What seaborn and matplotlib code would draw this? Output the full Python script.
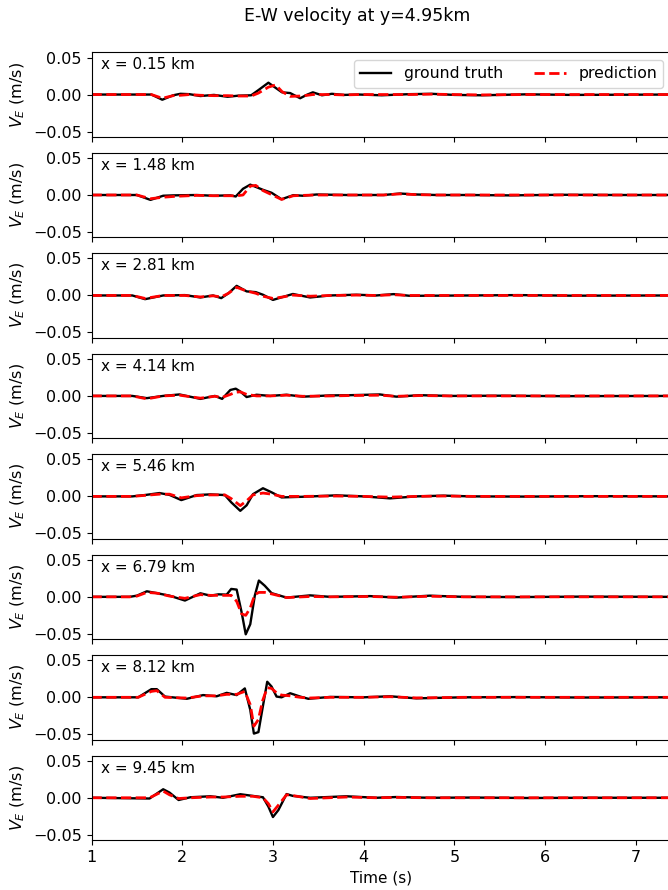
import numpy as np
import pandas as pd
import matplotlib
matplotlib.use("Agg")
import matplotlib.pyplot as plt
import seaborn as sns

title = "E-W velocity at y=4.95km"
stations = ["0.15", "1.48", "2.81", "4.14", "5.46", "6.79", "8.12", "9.45"]

# panel 1 (x = 0.15 km)
t1 = [1.0, 1.66, 1.78, 1.90, 1.98, 2.08, 2.20, 2.35, 2.50, 2.62, 2.76, 2.84, 2.95, 3.03, 3.10, 3.19, 3.30, 3.38,
      3.44, 3.54, 3.65, 3.78, 3.95, 4.2, 4.5, 4.75, 5.0, 5.3, 5.8, 6.3, 7.4]
gt1 = [0, 0, -0.007, -0.001, 0.001, 0.0005, -0.002, -0.0005, -0.003, -0.0015, -0.001, 0.006, 0.016, 0.009, 0.003,
       0.002, -0.005, 0.0, 0.003, -0.001, 0.001, -0.0005, 0.0, -0.001, 0.0005, 0.001, -0.0005, -0.001, 0.0003, -0.0005, 0]
pr1 = [0, 0, -0.005, -0.0015, -0.001, 0.0, -0.001, -0.0015, -0.0015, -0.002, -0.002, 0.002, 0.010, 0.013, 0.004,
       -0.0025, -0.002, -0.001, 0.0, 0.0, 0.0, -0.0005, 0.0, 0.0, 0.0, 0.0005, 0, -0.0005, 0, 0, 0]

# panel 2 (x = 1.48 km)
t2 = [1.0, 1.50, 1.65, 1.79, 1.90, 2.16, 2.34, 2.53, 2.59, 2.67, 2.75, 2.81, 2.89, 2.985, 3.095, 3.225, 3.33, 3.48,
      3.81, 4.22, 4.40, 4.58, 4.80, 5.17, 5.6, 6.2, 6.8, 7.4]
gt2 = [0, 0, -0.0066, -0.001, -0.0005, 0, -0.001, -0.0005, -0.002, 0.0084, 0.014, 0.011, 0.007, 0.003, -0.0057,
       -0.0002, -0.001, 0.0007, 0, 0, 0.002, 0.0007, 0, 0, -0.0005, 0.0003, 0, 0]
pr2 = [0, 0, -0.005, -0.003, -0.002, -0.0005, -0.001, -0.001, -0.0012, 0.0, 0.012, 0.013, 0.006, 0.0005, -0.006,
       -0.001, -0.0005, 0, 0, 0, 0.0015, 0.0005, 0, 0, 0, 0, 0, 0]

# panel 3 (x = 2.81 km)
t3 = [1.0, 1.45, 1.59, 1.79, 2.03, 2.20, 2.34, 2.43, 2.51, 2.60, 2.71, 2.81, 2.89, 3.00, 3.11, 3.22, 3.41, 3.63,
      3.92, 4.14, 4.33, 4.51, 5.17, 5.7, 6.3, 7.4]
gt3 = [0, 0, -0.005, 0, 0.0005, -0.0027, 0, -0.0036, 0.003, 0.013, 0.0055, 0.0045, 0.001, -0.006, -0.002, 0.002,
       -0.0027, 0, 0.001, 0, 0.0018, -0.0005, 0, 0.0005, -0.0003, 0]
pr3 = [0, 0, -0.004, 0, 0, -0.002, -0.0005, -0.002, 0.003, 0.011, 0.006, 0.003, -0.001, -0.004, -0.002, 0.0005,
       -0.001, 0, 0.0005, 0, 0.001, 0, 0, 0, 0, 0]

# panel 4 (x = 4.14 km)
t4 = [1.0, 1.45, 1.61, 1.79, 1.97, 2.20, 2.36, 2.44, 2.53, 2.59, 2.64, 2.71, 2.82, 2.97, 3.15, 3.33, 3.63, 3.85,
      4.18, 4.36, 4.62, 4.95, 5.5, 6.2, 7.4]
gt4 = [0, 0, -0.003, 0, 0.002, -0.004, 0, -0.004, 0.008, 0.0098, 0.006, -0.0015, 0.0016, 0, 0.0016, -0.001,
       0.0007, 0.001, 0.002, -0.001, 0.001, 0, 0.0003, -0.0003, 0]
pr4 = [0, 0, -0.004, 0, 0.001, -0.003, -0.0005, -0.002, 0.002, 0.005, 0.0055, 0.002, 0.0, 0, 0.001, -0.0005,
       0, 0.0005, 0.001, -0.0005, 0.0005, 0, 0, 0, 0]

# panel 5 (x = 5.46 km)
t5 = [1.0, 1.45, 1.60, 1.75, 1.86, 1.99, 2.16, 2.31, 2.47, 2.54, 2.64, 2.71, 2.78, 2.89, 2.985, 3.095, 3.33, 3.70,
      4.00, 4.29, 4.58, 4.88, 5.2, 5.8, 6.5, 7.4]
gt5 = [0, 0, 0.002, 0.0045, 0.002, -0.005, 0.0018, 0.0027, 0.0018, -0.008, -0.0195, -0.012, 0.003, 0.011, 0.0055,
       -0.0014, -0.0005, 0.0014, 0, -0.0027, 0, 0.001, 0, -0.0003, 0.0003, 0]
pr5 = [0, 0, 0.0015, 0.003, 0.003, -0.002, 0.001, 0.002, 0.002, -0.003, -0.0125, -0.006, 0.002, 0.0045, 0.003,
       0, 0, 0.0005, 0, -0.001, 0, 0.0005, 0, 0, 0, 0]

# panel 6 (x = 6.79 km)
t6 = [1.0, 1.42, 1.50, 1.61, 1.72, 1.86, 2.03, 2.20, 2.31, 2.40, 2.49, 2.54, 2.60, 2.655, 2.70, 2.75, 2.80, 2.845,
      2.91, 2.985, 3.15, 3.41, 3.63, 4.07, 4.36, 4.73, 5.10, 5.7, 6.4, 7.4]
gt6 = [0, 0, 0.0016, 0.0075, 0.005, 0.0016, -0.005, 0.0048, 0.0016, 0.0034, 0.003, 0.0107, 0.0098, -0.021,
       -0.0506, -0.037, 0.0016, 0.022, 0.015, 0.005, -0.001, 0.002, 0, 0.001, -0.001, 0.0016, 0, -0.0003, 0.0003, 0]
pr6 = [0, 0, 0.001, 0.006, 0.005, 0.001, -0.002, 0.003, 0.002, 0.002, 0.002, 0.002, -0.006, -0.023, -0.025,
       -0.015, 0.003, 0.006, 0.006, 0.004, -0.001, 0.0005, 0, 0.0005, -0.0005, 0.0008, 0, 0, 0, 0]

# panel 7 (x = 8.12 km)
t7 = [1.0, 1.515, 1.66, 1.72, 1.81, 2.05, 2.23, 2.38, 2.49, 2.60, 2.69, 2.75, 2.79, 2.84, 2.885, 2.937, 2.985,
      3.04, 3.095, 3.19, 3.30, 3.39, 3.63, 4.00, 4.29, 4.58, 5.1, 5.7, 6.4, 7.4]
gt7 = [0, 0, 0.011, 0.011, 0.001, -0.002, 0.003, 0.0014, 0.006, 0.003, 0.012, -0.017, -0.049, -0.047, -0.015,
       0.021, 0.0145, 0.001, 0, 0.0055, 0.001, -0.002, 0.0005, 0, 0.0014, -0.0014, 0, 0.0003, -0.0003, 0]
pr7 = [0, 0, 0.008, 0.009, 0.0, -0.001, 0.002, 0.002, 0.004, 0.004, 0.008, -0.01, -0.039, -0.03, -0.005, 0.013,
       0.012, 0.006, 0.003, 0.002, 0.0, -0.001, 0, 0, 0.0008, -0.0008, 0, 0, 0, 0]

# panel 8 (x = 9.45 km)
t8 = [1.0, 1.64, 1.79, 1.86, 1.96, 2.09, 2.31, 2.45, 2.64, 2.78, 2.89, 2.95, 3.00, 3.06, 3.15, 3.22, 3.41, 3.81,
      4.14, 4.36, 4.73, 5.2, 5.8, 6.5, 7.4]
gt8 = [0, -0.001, 0.0115, 0.007, -0.003, 0.0007, 0.002, 0, 0.0048, 0.0025, 0.0007, -0.012, -0.026, -0.0166,
       0.005, 0.0025, 0, 0.002, 0, 0.001, 0, 0.0003, -0.0003, 0, 0]
pr8 = [0, 0, 0.009, 0.004, -0.001, 0, 0.001, 0.001, 0.002, 0.002, 0.0, -0.008, -0.019, -0.01, 0.004, 0.003,
       -0.001, 0.001, 0, 0.0005, 0, 0, 0, 0, 0]

times = [t1, t2, t3, t4, t5, t6, t7, t8]
truths = [gt1, gt2, gt3, gt4, gt5, gt6, gt7, gt8]
preds = [pr1, pr2, pr3, pr4, pr5, pr6, pr7, pr8]

fig, axes = plt.subplots(8, 1, figsize=(6.68, 8.9), dpi=100, sharex=True, sharey=True)
fig.subplots_adjust(left=0.137, right=1.005, bottom=0.0562, top=0.9412, hspace=0.19)

for i, ax in enumerate(axes):
    df = pd.DataFrame({"t": times[i], "gt": truths[i], "pr": preds[i]})
    sns.lineplot(data=df, x="t", y="gt", ax=ax, color="black", lw=1.7, label="ground truth", sort=False)
    sns.lineplot(data=df, x="t", y="pr", ax=ax, color="red", lw=2.0, linestyle="--", label="prediction", sort=False)
    ax.set_xlim(1, 7.392)
    ax.set_ylim(-0.057, 0.057)
    ax.set_yticks([-0.05, 0.0, 0.05])
    ax.set_xticks([1, 2, 3, 4, 5, 6, 7])
    ax.tick_params(labelsize=11.5)
    ax.set_ylabel("$V_E$ (m/s)", fontsize=11.5)
    ax.set_xlabel("")
    ax.text(0.016, 0.85, f"x = {stations[i]} km", transform=ax.transAxes, fontsize=11, va="center", ha="left")
    if i == 0:
        ax.legend(loc="upper right", ncol=2, fontsize=11.3, handlelength=2.0)
    else:
        ax.get_legend().remove()

axes[-1].set_xlabel("Time (s)", fontsize=11)
fig.suptitle(title, fontsize=12.5, x=0.535, y=0.992)
fig.savefig("out.png", dpi=100)
